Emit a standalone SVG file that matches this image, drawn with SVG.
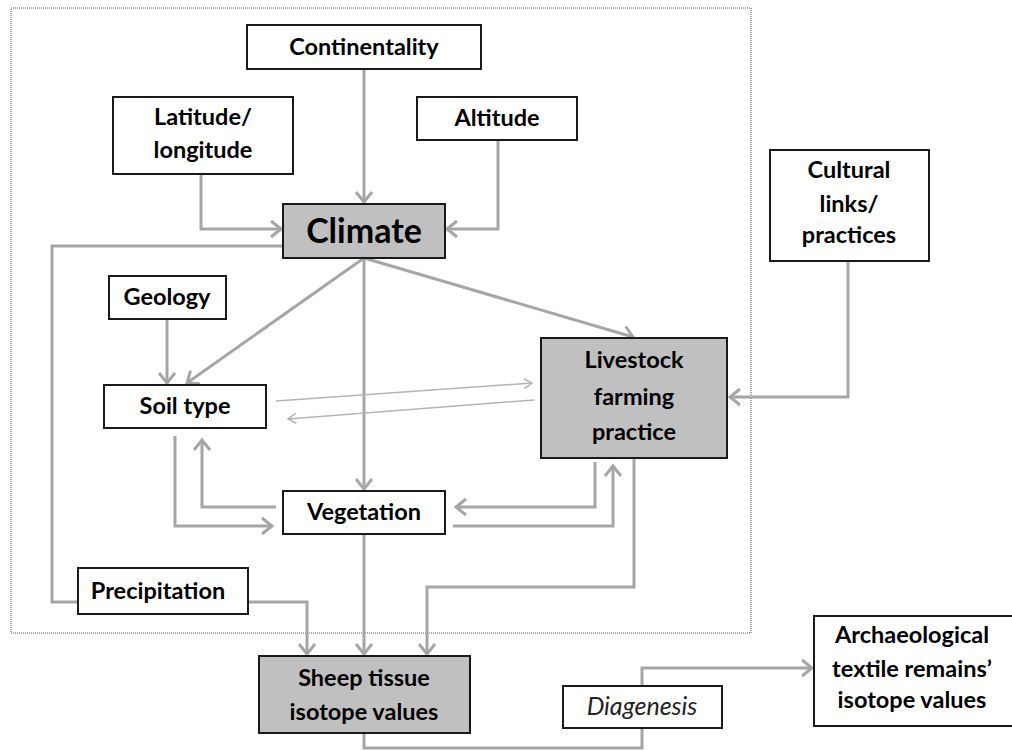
<svg xmlns="http://www.w3.org/2000/svg" width="1012" height="751" viewBox="0 0 1012 751">
<style>
.box{fill:#fff;stroke:#1a1a1a;stroke-width:2}
.grey{fill:#c0c0c0;stroke:#1a1a1a;stroke-width:2}
.t{font-family:Lato,"Open Sans",sans-serif;font-weight:bold;font-size:23.5px;fill:#000;text-anchor:middle}
.big{font-size:34px}
.it{font-style:italic;font-weight:normal;font-size:25px;fill:#222}
.c{fill:none;stroke:#a6a6a6;stroke-width:3}
.thin{fill:none;stroke:#b4b4b4;stroke-width:1.5}
</style>
<defs>
<marker id="a" markerUnits="userSpaceOnUse" markerWidth="14" markerHeight="20" refX="11" refY="9" orient="auto" viewBox="0 0 14 18">
<path d="M1,1 L11,9 L1,17" fill="none" stroke="#a6a6a6" stroke-width="3"/>
</marker>
<marker id="b" markerUnits="userSpaceOnUse" markerWidth="12" markerHeight="14" refX="9" refY="6" orient="auto" viewBox="0 0 12 12">
<path d="M1,1 L9,6 L1,11" fill="none" stroke="#b4b4b4" stroke-width="1.5"/>
</marker>
</defs>
<rect x="11" y="8" width="740" height="625" fill="none" stroke="#555" stroke-width="1" stroke-dasharray="1,1"/>
<g id="connectors">
<path class="c" d="M364,69 V202" marker-end="url(#a)"/>
<path class="c" d="M201,174 V229 H281" marker-end="url(#a)"/>
<path class="c" d="M498,140 V229 H447" marker-end="url(#a)"/>
<path class="c" d="M283,246 H52 V602 H78"/>
<path class="c" d="M364,258 L187,383" marker-end="url(#a)"/>
<path class="c" d="M364,258 V489" marker-end="url(#a)"/>
<path class="c" d="M364,258 L633,337" marker-end="url(#a)"/>
<path class="c" d="M167,319 V383" marker-end="url(#a)"/>
<path class="thin" d="M276,401 L532,383" marker-end="url(#b)"/>
<path class="thin" d="M534,400 L288,419" marker-end="url(#b)"/>
<path class="c" d="M175,436 V526 H272" marker-end="url(#a)"/>
<path class="c" d="M276,507 H202 V440" marker-end="url(#a)"/>
<path class="c" d="M595,462 V507 H456" marker-end="url(#a)"/>
<path class="c" d="M453,526 H613 V466" marker-end="url(#a)"/>
<path class="c" d="M634,458 V587 H427 V654" marker-end="url(#a)"/>
<path class="c" d="M364,534 V654" marker-end="url(#a)"/>
<path class="c" d="M248,602 H307 V654" marker-end="url(#a)"/>
<path class="c" d="M848,261 V397 H730" marker-end="url(#a)"/>
<path class="c" d="M364,733 V748 H642 V668 H812" marker-end="url(#a)"/>
</g>
<g id="continentality"><rect class="box" x="247" y="25" width="234" height="44"/><text class="t" x="364" y="55">Continentality</text></g>
<g id="latitude"><rect class="box" x="113" y="97" width="180" height="77"/><text class="t" x="203" y="125">Latitude/</text><text class="t" x="203" y="158">longitude</text></g>
<g id="altitude"><rect class="box" x="417" y="97" width="160" height="43"/><text class="t" x="497" y="126">Altitude</text></g>
<g id="climate"><rect class="grey" x="283" y="204" width="162" height="54"/><text class="t big" x="364" y="243">Climate</text></g>
<g id="cultural"><rect class="box" x="770" y="150" width="159" height="111"/><text class="t" x="849" y="178">Cultural</text><text class="t" x="849" y="212">links/</text><text class="t" x="849" y="243">practices</text></g>
<g id="geology"><rect class="box" x="109" y="276" width="117" height="43"/><text class="t" x="167" y="305">Geology</text></g>
<g id="soil"><rect class="box" x="104" y="385" width="162" height="43"/><text class="t" x="185" y="414">Soil type</text></g>
<g id="livestock"><rect class="grey" x="541" y="338" width="186" height="120"/><text class="t" x="634" y="368">Livestock</text><text class="t" x="634" y="405">farming</text><text class="t" x="634" y="440">practice</text></g>
<g id="vegetation"><rect class="box" x="283" y="491" width="162" height="43"/><text class="t" x="364" y="520">Vegetation</text></g>
<g id="precipitation"><rect class="box" x="78" y="568" width="170" height="46"/><text class="t" x="158" y="599">Precipitation</text></g>
<g id="sheep"><rect class="grey" x="259" y="656" width="211" height="77"/><text class="t" x="364" y="686">Sheep tissue</text><text class="t" x="364" y="720">isotope values</text></g>
<g id="diagenesis"><rect class="box" x="563" y="686" width="159" height="42"/><text class="t it" x="642" y="715">Diagenesis</text></g>
<g id="archaeological"><rect class="box" x="814" y="616" width="200" height="110"/><text class="t" x="912" y="643">Archaeological</text><text class="t" x="912" y="677">textile remains’</text><text class="t" x="912" y="708">isotope values</text></g>
</svg>
